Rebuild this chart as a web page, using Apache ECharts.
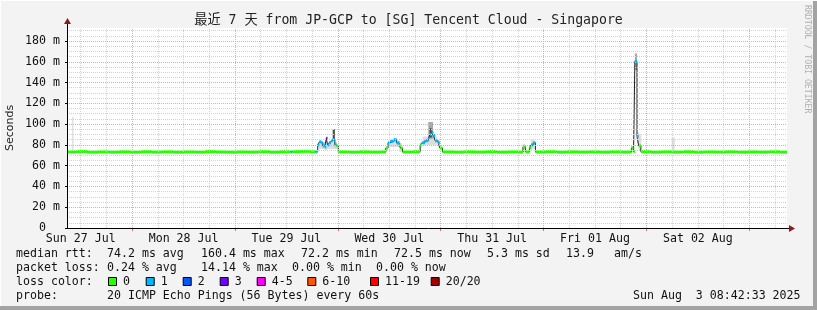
<!DOCTYPE html>
<html><head><meta charset="utf-8">
<script src="https://cdn.jsdelivr.net/npm/echarts@6/dist/echarts.min.js"></script>
<style>html,body{margin:0;padding:0;background:#f3f3f3}#c{width:817px;height:310px}</style>
</head><body><div id="c"></div>
<script>
// ---------- data ----------
const chartTitle = '最近 7 天 from JP-GCP to [SG] Tencent Cloud - Singapore';
const dayLabels = ['Sun 27 Jul','Mon 28 Jul','Tue 29 Jul','Wed 30 Jul','Thu 31 Jul','Fri 01 Aug','Sat 02 Aug'];
const dayLabelHours = [12,36,60,84,108,132,156];
const midnightHours = [24,48,72,96,120,144,168];
const sixHourHours = [12,18,30,36,42,54,60,66,78,84,90,102,108,114,126,132,138,150,156,162,174];
const yTicks = [0,20,40,60,80,100,120,140,160,180];
const xMin = 8.8, xMax = 176.8, yMax = 192.5;

// median rtt steps (hours since Sun 27 Jul 00:00, ms, loss bucket index)
const medianT = [8.8,11,13.5,16,18.5,21,23.5,26,28.5,31,33.5,36,38.5,41,43.5,46,48.5,51,53.5,56,58.5,61,61.4,63.5,65.5,66.8,67.1,
  67.3,67.7,68.1,68.5,69.0,69.3,69.6,70.0,70.4,70.8,71.3,71.7,72.1,
  74.5,77,79.5,82,
  83.2,83.7,84.2,85.0,85.7,86.3,86.6,87.1,
  89.5,
  91.2,91.6,92.3,93.1,93.5,93.9,94.3,94.7,95.4,95.8,96.4,
  99,101.5,104,106.5,109,111.5,114,
  115.2,115.8,116.7,117.1,117.6,118.1,
  120.5,123,125.5,128,130.5,133,135.5,138,
  140.5,141.0,141.3,141.8,142.2,142.7,
  145,147.5,150,152.5,155,157.5,160,162.5,165,167.5,170,172.5,175];
const medianV = [73.2,73.6,73.0,73.3,73.0,73.4,73.0,73.5,73.1,73.4,73.0,73.3,73.0,73.6,73.2,73.0,73.3,73.1,73.5,73.0,73.4,73.2,73.6,73.8,73.4,73.2,73.5,
  80,83,82,79,78,86.5,80,82,84,85,80,79,73.3,
  73.0,73.4,73.1,73.3,
  77,82,83.5,85,82,80,77,73.2,
  73.5,
  80,82,84,86,90,92,89,84,82,77,73.3,
  73.0,73.4,73.1,73.5,73.0,73.3,73.1,
  78,73.3,77,80,82,73.2,
  73.5,73.0,73.4,73.1,73.3,73.0,73.4,73.1,
  77,73.5,160.4,88,79,73.5,
  73.0,73.4,73.1,73.5,73.0,73.3,73.1,73.4,73.0,73.3,73.1,73.4,73.0];
const medianLoss = [0,0,0,0,0,0,0,0,0,0,0,0,0,0,0,0,0,0,0,0,0,1,0,0,0,1,0,
  1,1,1,1,1,3,1,1,1,1,1,0,0,
  0,0,0,0,
  0,1,1,1,1,0,0,0,
  0,
  0,1,1,1,1,1,1,1,1,0,0,
  0,0,0,0,0,0,0,
  0,0,0,1,1,0,
  0,0,0,0,0,0,0,0,
  0,0,1,1,0,0,
  0,0,0,0,0,0,0,0,0,0,0,0,0];

// smoke bands (start h, end h, low ms, high ms, shade 0=light 1=mid 2=dark)
const smokeStart = [10.0, 67.6, 69.0, 70.8, 84.0, 86.4, 91.8, 93.1, 93.4, 115.1, 117.0, 140.4, 141.3, 141.8, 142.2, 149.9];
const smokeEnd   = [10.3, 71.8, 69.5, 71.3, 86.5, 86.9, 95.2, 94.2, 93.9, 115.7, 117.9, 141.0, 141.8, 142.3, 142.8, 150.6];
const smokeLow   = [73,   76,   75,   84,   78,   73,   80,   86,   87,   73,   76,   73,   152,  82,   74,   74];
const smokeHigh  = [107,  83,   80,   95,   84,   82,   88,   102,  96,   81,   85,   79,   168,  92,   90,   87];
const smokeShade = [0,    0,    0,    2,    0,    0,    0,    1,    2,    0,    0,    0,    1,    0,    0,    0];

const lossLabels = ['0','1','2','3','4-5','6-10','11-19','20/20'];
const lossColors = ['#26ff00','#00b8ff','#0059ff','#7000ff','#ff00ff','#ff5500','#ff0000','#a10000'];
const smokeColors = ['#dddddd','#a8a8a8','#4a4a4a'];

const legendRows = [
  [['median rtt:',16],['74.2 ms avg',107],['160.4 ms max',201],['72.2 ms min',301],['72.5 ms now',394],['5.3 ms sd',487],['13.9',566],['am/s',614]],
  [['packet loss:',16],['0.24 % avg',107],['14.14 % max',201],['0.00 % min',292],['0.00 % now',376]],
  [['loss color:',16]],
  [['probe:',16],['20 ICMP Echo Pings (56 Bytes) every 60s',107],['Sun Aug  3 08:42:33 2025',633]]
];
const lossBoxX = [108,145.7,182.7,219.7,256.7,307.3,370,430.7];

// ---------- build ----------
const mono = '"DejaVu Sans Mono", monospace';
const chart = echarts.init(document.getElementById('c'), null, {renderer:'canvas'});

const lineData = medianT.map((t,i)=>[t, medianV[i]]);
lineData.push([xMax, medianV[medianV.length-1]]);
const bandData = medianT.map((t,i)=>[t, i+1<medianT.length?medianT[i+1]:xMax, medianV[i], medianLoss[i]]);
const smokeData = smokeStart.map((s,i)=>[s, smokeEnd[i], smokeLow[i], smokeHigh[i], smokeShade[i]]);

const minorCol = '#d2d2d2', majorCol = '#f0a4a4';
const gridMark = [];
sixHourHours.forEach(h=>gridMark.push({xAxis:h, lineStyle:{color:minorCol}}));
for (let v=5; v<yMax; v+=5) if (v%20!==0) gridMark.push({yAxis:v, lineStyle:{color:minorCol}});
midnightHours.forEach(h=>gridMark.push({xAxis:h, lineStyle:{color:majorCol}}));
yTicks.forEach(v=>{ if (v>0) gridMark.push({yAxis:v, lineStyle:{color:majorCol}}); });

const graphics = [];
graphics.push({type:'rect', shape:{x:813,y:0,width:4,height:310}, style:{fill:'#a3a3a3'}, z:100});
graphics.push({type:'rect', shape:{x:0,y:306,width:817,height:4}, style:{fill:'#a3a3a3'}, z:100});
graphics.push({type:'rect', shape:{x:0,y:0,width:817,height:1}, style:{fill:'#ffffff'}, z:100});
graphics.push({type:'rect', shape:{x:0,y:0,width:1,height:306}, style:{fill:'#ffffff'}, z:100});
graphics.push({type:'text', x:408.5, y:21, style:{text:chartTitle, fontSize:13.2, fontFamily:'"DejaVu Sans Mono","Noto Sans CJK SC",monospace', fill:'#222', align:'center', verticalAlign:'middle'}, z:100});
graphics.push({type:'text', x:807, y:5, rotation:-Math.PI/2, style:{text:'RRDTOOL / TOBI OETIKER', fontSize:8.2, fontFamily:mono, fill:'#b0b0b0', align:'left', verticalAlign:'middle'}, z:100});
graphics.push({type:'text', x:10.5, y:128, rotation:Math.PI/2, style:{text:'Seconds', fontSize:11, fontFamily:'"DejaVu Sans", sans-serif', fill:'#222', align:'center', verticalAlign:'middle'}, z:100});
graphics.push({type:'line', shape:{x1:67,y1:228.5,x2:790,y2:228.5}, style:{stroke:'#000', lineWidth:1}, z:100});
graphics.push({type:'line', shape:{x1:67.5,y1:229,x2:67.5,y2:22}, style:{stroke:'#000', lineWidth:1}, z:100});
graphics.push({type:'polygon', shape:{points:[[789,225],[795,228.5],[789,232]]}, style:{fill:'#8a1c1c'}, z:101});
graphics.push({type:'polygon', shape:{points:[[64,24],[67.5,18],[71,24]]}, style:{fill:'#8a1c1c'}, z:101});
const rowY = [254, 268, 282, 296];
legendRows.forEach((row,ri)=>row.forEach(([txt,x])=>{
  graphics.push({type:'text', x:x, y:rowY[ri], style:{text:txt, fontSize:11.6, fontFamily:mono, fill:'#111', align:'left', verticalAlign:'middle'}, z:100});
}));
lossLabels.forEach((lab,i)=>{
  graphics.push({type:'rect', shape:{x:lossBoxX[i]+0.5,y:277.5,width:8,height:8}, style:{fill:lossColors[i], stroke:'#000', lineWidth:1}, z:100});
  graphics.push({type:'text', x:lossBoxX[i]+15, y:282, style:{text:lab, fontSize:11.6, fontFamily:mono, fill:'#111', align:'left', verticalAlign:'middle'}, z:100});
});

const option = {
  animation:false,
  backgroundColor:'#f3f3f3',
  grid:{left:67, top:28, width:720, height:200, show:true, backgroundColor:'#ffffff', borderWidth:0},
  xAxis:{type:'value', min:xMin, max:xMax,
    axisLine:{show:false}, splitLine:{show:false},
    axisTick:{show:true, customValues:midnightHours, length:3, inside:false, lineStyle:{color:'#e07070'}},
    axisLabel:{customValues:dayLabelHours, formatter:v=>{const i=dayLabelHours.indexOf(Math.round(v)); return i>=0?dayLabels[i]:'';},
      fontFamily:mono, fontSize:11.6, color:'#111', margin:5}},
  yAxis:{type:'value', min:0, max:yMax, interval:20,
    axisLine:{show:false}, splitLine:{show:false},
    axisTick:{show:true, customValues:yTicks, length:2, lineStyle:{color:'#000'}},
    axisLabel:{customValues:yTicks, formatter:v=> v===0?'0  ':(v%20===0? v+' m':''), fontFamily:mono, fontSize:11.6, color:'#111', margin:7}},
  graphic:graphics,
  series:[
    {type:'line', data:[], z:1, silent:true, markLine:{silent:true, symbol:['none','none'], label:{show:false}, animation:false,
      lineStyle:{type:[1,1], width:1}, data:gridMark}},
    {type:'custom', z:2, silent:true, data:smokeData, renderItem:(p,api)=>{
      const a=api.coord([api.value(0), api.value(3)]), b=api.coord([api.value(1), api.value(2)]);
      return {type:'rect', shape:{x:a[0], y:a[1], width:Math.max(1,b[0]-a[0]), height:b[1]-a[1]}, style:{fill:smokeColors[api.value(4)]}};
    }},
    {type:'line', z:3, silent:true, data:lineData, step:'end', symbol:'none', lineStyle:{color:'#202020', width:1}},
    {type:'custom', z:4, silent:true, data:bandData, renderItem:(p,api)=>{
      const a=api.coord([api.value(0), api.value(2)]), b=api.coord([api.value(1), api.value(2)]);
      return {type:'rect', shape:{x:a[0], y:a[1]-1.5, width:b[0]-a[0], height:3}, style:{fill:lossColors[api.value(3)]}};
    }}
  ]
};
chart.setOption(option);
</script></body></html>
